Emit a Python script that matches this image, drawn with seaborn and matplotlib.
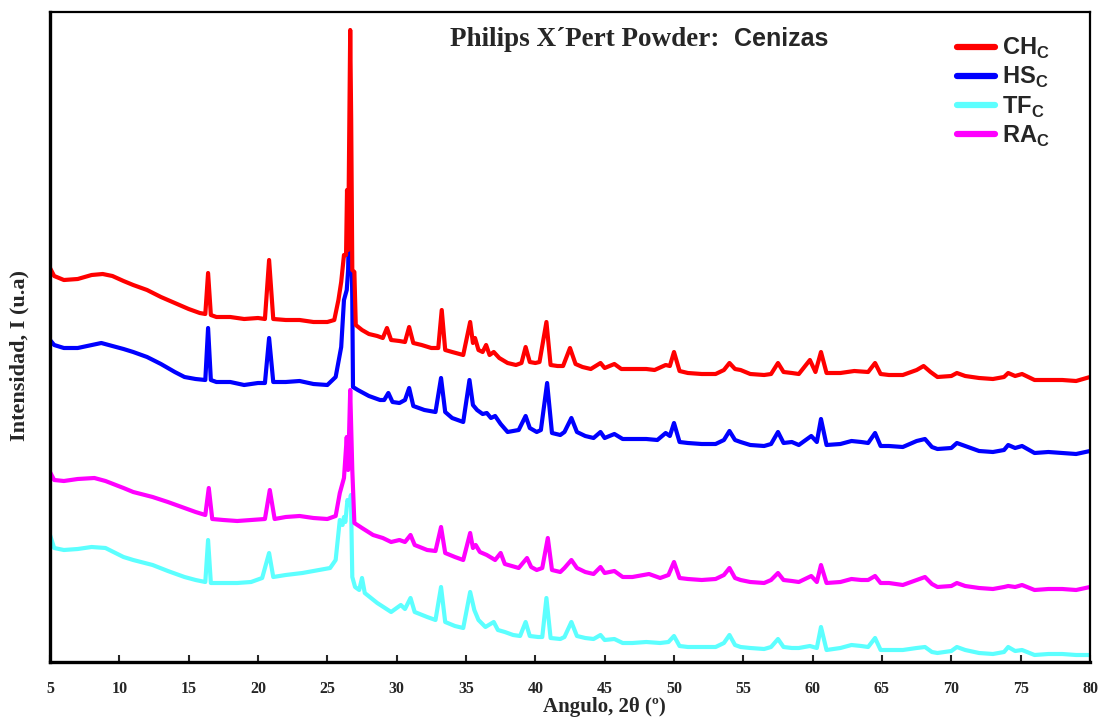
import numpy as np
import pandas as pd
import matplotlib
matplotlib.use("Agg")
import matplotlib.pyplot as plt
from matplotlib.lines import Line2D
import seaborn as sns

# ---------------- data (arbitrary units) ----------------
ch_angle = [5.0, 5.3, 6.0, 7.0, 8.0, 8.8, 9.5, 10.3, 11.0, 12.0, 13.0, 14.0, 15.0, 15.8, 16.2, 16.4, 16.6,
            17.0, 18.0, 19.0, 20.0, 20.5, 20.8, 21.1, 22.0, 23.0, 24.0, 25.0, 25.5, 25.8, 26.0, 26.2, 26.35,
            26.42, 26.5, 26.6, 26.65, 26.72, 26.8, 26.95, 27.05, 27.5, 28.0, 28.6, 29.0, 29.3, 29.6, 30.2,
            30.6, 30.9, 31.2, 31.8, 32.5, 33.0, 33.25, 33.5, 34.0, 34.8, 35.3, 35.5, 35.65, 35.9, 36.2,
            36.45, 36.7, 37.0, 37.4, 38.0, 38.6, 39.0, 39.3, 39.6, 40.0, 40.3, 40.8, 41.1, 41.6, 42.0, 42.5,
            42.9, 43.4, 44.0, 44.7, 45.0, 45.7, 46.2, 47.0, 48.0, 48.6, 49.4, 49.7, 50.0, 50.4, 51.0, 52.0,
            53.0, 53.6, 54.0, 54.4, 54.8, 55.5, 56.5, 57.0, 57.5, 57.9, 58.5, 59.0, 59.8, 60.2, 60.6, 61.0,
            62.0, 63.0, 64.0, 64.5, 64.9, 65.5, 66.5, 67.5, 68.0, 68.5, 69.0, 70.0, 70.4, 71.0, 72.0, 73.0,
            73.8, 74.1, 74.6, 75.1, 76.0, 77.0, 78.0, 79.0, 80.0]
ch_int = [394, 386, 382, 383, 387, 388, 386, 381, 377, 372, 365, 359, 353, 349, 348, 389, 347,
          345, 345, 343, 344, 343, 402, 343, 342, 342, 340, 340, 342, 362, 380, 407, 407,
          472, 412, 562, 632, 542, 392, 390, 337, 332, 328, 326, 324, 334, 322, 321,
          320, 335, 319, 317, 314, 314, 352, 312, 310, 307, 340, 319, 324, 312, 310,
          317, 307, 310, 304, 299, 297, 299, 315, 300, 299, 300, 340, 297, 296, 296, 314,
          298, 295, 293, 299, 294, 298, 293, 293, 293, 292, 297, 296, 310, 291, 289, 288,
          288, 292, 299, 293, 292, 288, 287, 288, 299, 290, 289, 288, 302, 290, 310, 289,
          289, 291, 290, 299, 288, 287, 287, 292, 296, 290, 285, 286, 289, 286, 284, 283,
          285, 289, 286, 288, 282, 282, 282, 281, 285]

hs_angle = [5.0, 5.3, 6.0, 7.0, 8.0, 8.7, 9.5, 10.3, 11.0, 12.0, 13.0, 14.0, 14.7, 15.5, 16.2, 16.4, 16.6,
            17.0, 18.0, 19.0, 20.0, 20.5, 20.8, 21.1, 22.0, 23.0, 24.0, 25.0, 25.6, 26.0, 26.2, 26.4, 26.5,
            26.6, 26.7, 26.8, 26.85, 27.2, 28.0, 28.8, 29.1, 29.4, 29.7, 30.2, 30.6, 30.9, 31.2, 32.0, 32.8,
            33.2, 33.5, 34.0, 34.8, 35.25, 35.5, 35.8, 36.2, 36.5, 36.8, 37.1, 37.5, 38.0, 38.8, 39.3, 39.6,
            40.1, 40.4, 40.85, 41.2, 41.8, 42.1, 42.6, 43.0, 43.6, 44.2, 44.7, 45.0, 45.7, 46.3, 47.0, 48.0,
            48.8, 49.4, 49.7, 50.0, 50.4, 51.0, 52.0, 53.0, 53.6, 54.0, 54.4, 54.8, 55.5, 56.5, 57.0, 57.5,
            57.9, 58.5, 59.0, 59.9, 60.3, 60.6, 61.0, 62.0, 62.8, 63.5, 64.0, 64.5, 64.9, 65.5, 66.5, 67.5,
            68.1, 68.6, 69.0, 70.0, 70.4, 71.0, 72.0, 73.0, 73.8, 74.1, 74.6, 75.1, 76.0, 77.0, 78.0, 79.0,
            80.0]
hs_int = [322, 317, 314, 314, 317, 319, 316, 313, 310, 305, 298, 290, 285, 283, 282, 334, 282,
          280, 280, 277, 279, 279, 324, 280, 280, 281, 278, 277, 285, 315, 362, 372, 392,
          472, 457, 362, 275, 272, 266, 262, 262, 269, 260, 259, 262, 274, 256, 252, 250,
          284, 250, 244, 240, 282, 257, 252, 248, 249, 244, 246, 238, 230, 232, 246, 234,
          230, 232, 279, 229, 227, 230, 244, 230, 226, 224, 230, 224, 228, 223, 223, 223,
          222, 229, 226, 239, 220, 219, 218, 218, 222, 231, 222, 220, 217, 216, 218, 230,
          219, 220, 217, 226, 220, 243, 217, 218, 221, 220, 219, 229, 216, 216, 215, 221,
          223, 215, 213, 214, 219, 216, 211, 210, 212, 217, 214, 216, 209, 210, 209, 208,
          211]

ra_angle = [5.0, 5.3, 6.0, 7.0, 8.2, 9.0, 10.3, 11.0, 12.4, 13.5, 14.7, 15.5, 16.2, 16.45, 16.7, 17.5,
            18.5, 19.5, 20.5, 20.85, 21.2, 22.0, 23.0, 24.0, 25.0, 25.6, 25.9, 26.2, 26.4, 26.5, 26.65,
            26.8, 26.95, 27.5, 28.3, 29.0, 29.6, 30.2, 30.6, 31.0, 31.3, 32.2, 32.8, 33.2, 33.5, 34.2,
            34.8, 35.3, 35.5, 35.7, 36.0, 36.5, 37.1, 37.5, 37.8, 38.3, 38.8, 39.4, 39.7, 40.1, 40.5,
            40.9, 41.2, 41.8, 42.1, 42.6, 43.0, 43.6, 44.2, 44.7, 45.0, 45.7, 46.3, 47.0, 48.2, 49.0,
            49.6, 50.0, 50.4, 51.0, 52.0, 53.0, 53.6, 54.0, 54.4, 54.8, 55.5, 56.5, 57.0, 57.5, 57.9,
            58.5, 59.0, 59.9, 60.3, 60.6, 61.0, 62.0, 62.8, 63.5, 64.0, 64.5, 64.9, 65.5, 66.5, 67.5,
            68.1, 68.6, 69.0, 70.0, 70.4, 71.0, 72.0, 73.0, 73.8, 74.1, 74.6, 75.1, 76.0, 77.0, 78.0,
            79.0, 80.0]
ra_int = [190, 182, 181, 183, 184, 181, 174, 170, 165, 160, 154, 150, 147, 174, 143, 142,
          141, 142, 143, 172, 143, 145, 146, 144, 143, 146, 169, 184, 225, 192, 272,
          192, 139, 134, 127, 124, 120, 122, 120, 127, 117, 112, 111, 135, 109, 105,
          102, 129, 114, 117, 110, 107, 102, 109, 98, 96, 94, 104, 95, 92, 94,
          124, 92, 90, 94, 102, 94, 90, 88, 95, 89, 91, 85, 85, 88, 84,
          87, 100, 84, 83, 82, 83, 87, 94, 84, 82, 80, 79, 82, 89, 82,
          81, 80, 86, 80, 97, 79, 80, 83, 82, 82, 86, 79, 79, 77, 82,
          85, 78, 75, 76, 79, 76, 74, 73, 75, 76, 75, 77, 72, 73, 73,
          72, 75]

tf_angle = [5.0, 5.3, 6.0, 7.0, 8.0, 9.0, 10.3, 11.0, 12.4, 13.5, 14.7, 15.5, 16.2, 16.4, 16.6, 17.5,
            18.5, 19.5, 20.3, 20.8, 21.1, 22.0, 23.2, 24.0, 25.2, 25.6, 25.9, 26.1, 26.2, 26.3, 26.45,
            26.6, 26.7, 26.8, 27.0, 27.3, 27.5, 27.7, 28.6, 29.6, 30.3, 30.6, 31.0, 31.3, 32.2, 32.8,
            33.2, 33.5, 34.2, 34.8, 35.3, 35.6, 35.9, 36.4, 37.0, 37.3, 37.8, 38.4, 38.9, 39.3, 39.6,
            40.2, 40.5, 40.8, 41.1, 41.8, 42.1, 42.6, 43.0, 43.6, 44.2, 44.7, 45.0, 45.7, 46.3, 47.0,
            48.0, 49.0, 49.6, 50.0, 50.4, 51.0, 52.0, 53.0, 53.6, 54.0, 54.4, 54.8, 55.5, 56.5, 57.0,
            57.5, 57.9, 58.5, 59.0, 59.8, 60.3, 60.6, 61.0, 62.0, 62.8, 63.5, 64.0, 64.5, 64.9, 65.5,
            66.5, 67.5, 68.1, 68.6, 69.0, 70.0, 70.4, 71.0, 72.0, 73.0, 73.8, 74.1, 74.6, 75.1, 76.0,
            77.0, 78.0, 79.0, 80.0]
tf_int = [127, 114, 112, 113, 115, 114, 105, 102, 97, 91, 85, 82, 80, 122, 79, 79,
          79, 80, 84, 109, 85, 87, 89, 91, 94, 102, 142, 137, 145, 140, 162,
          157, 167, 85, 75, 72, 84, 69, 59, 50, 57, 53, 64, 50, 45, 42,
          75, 40, 36, 34, 70, 52, 42, 35, 40, 32, 30, 27, 26, 40, 26,
          25, 25, 64, 24, 23, 25, 40, 26, 24, 23, 27, 22, 23, 19, 19,
          20, 19, 20, 26, 16, 15, 15, 15, 19, 27, 17, 15, 14, 13, 15,
          23, 15, 14, 14, 16, 14, 35, 12, 14, 17, 16, 15, 24, 12, 12,
          12, 14, 15, 10, 9, 11, 15, 12, 9, 8, 10, 15, 11, 12, 7,
          8, 8, 7, 7]

labels = ["CH", "HS", "TF", "RA"]
colors = {"CH": "#ff0000", "HS": "#0000ff", "TF": "#5cffff", "RA": "#ff00ff"}
x_ticks = [5, 10, 15, 20, 25, 30, 35, 40, 45, 50, 55, 60, 65, 70, 75, 80]

series = {"CH": (ch_angle, ch_int), "HS": (hs_angle, hs_int),
          "TF": (tf_angle, tf_int), "RA": (ra_angle, ra_int)}
df = pd.concat([pd.DataFrame({"angle": a, "intensity": i, "sample": k})
                for k, (a, i) in series.items()], ignore_index=True)

# ---------------- style ----------------
sns.set_style("white")
plt.rcParams["font.family"] = ["Liberation Serif", "DejaVu Serif"]
plt.rcParams["mathtext.fontset"] = "custom"
plt.rcParams["mathtext.rm"] = "Liberation Sans"
plt.rcParams["mathtext.bf"] = "Liberation Sans:bold"

fig = plt.figure(figsize=(11.03, 7.22), dpi=100)
ax = fig.add_axes([50 / 1103, 1 - 662 / 722, 1040 / 1103, 650 / 722])

draw_order = ["TF", "RA", "HS", "CH"]
for k in draw_order:
    sns.lineplot(data=df[df["sample"] == k], x="angle", y="intensity", color=colors[k],
                 lw=3.0, estimator=None, sort=False, legend=False, ax=ax)

ax.set_xlim(5, 80)
ax.set_ylim(0, 650)
ax.set_xticks(x_ticks)
ax.set_xticklabels([str(t) for t in x_ticks], fontsize=11.5, fontweight="bold")
ax.set_yticks([])
ax.tick_params(axis="x", direction="in", length=5, width=1.5, pad=14, bottom=True)

for side in ["left", "bottom"]:
    ax.spines[side].set_linewidth(2.4)
for side in ["top", "right"]:
    ax.spines[side].set_linewidth(1.6)
for s in ax.spines.values():
    s.set_color("black")
    s.set_visible(True)

ax.set_xlabel("Angulo, 2θ (º)", fontsize=15, fontweight="bold")
ax.xaxis.set_label_coords(0.533, -0.054)
ax.set_ylabel("Intensidad, I (u.a)", fontsize=16, fontweight="bold")
ax.yaxis.set_label_coords(-0.02, 0.472)

ax.text(0.385, 0.958, "Philips X´Pert Powder:", transform=ax.transAxes, fontsize=19.5,
        fontweight="bold", ha="left", va="center", family="Liberation Serif")
ax.text(0.658, 0.958, "Cenizas", transform=ax.transAxes, fontsize=18,
        fontweight="bold", ha="left", va="center", family="Liberation Sans")

handles = [Line2D([0], [0], color=colors[k], lw=4.5, solid_capstyle="round") for k in labels]
leg_labels = [r"$\mathbf{%s}_{\mathbf{C}}$" % k for k in labels]
ax.legend(handles, leg_labels, loc="upper left", bbox_to_anchor=(0.872, 0.963), frameon=False,
          fontsize=17, handlelength=1.6, handletextpad=0.3, labelspacing=0.17, borderaxespad=0,
          borderpad=0)

fig.savefig("out.png", dpi=100)
